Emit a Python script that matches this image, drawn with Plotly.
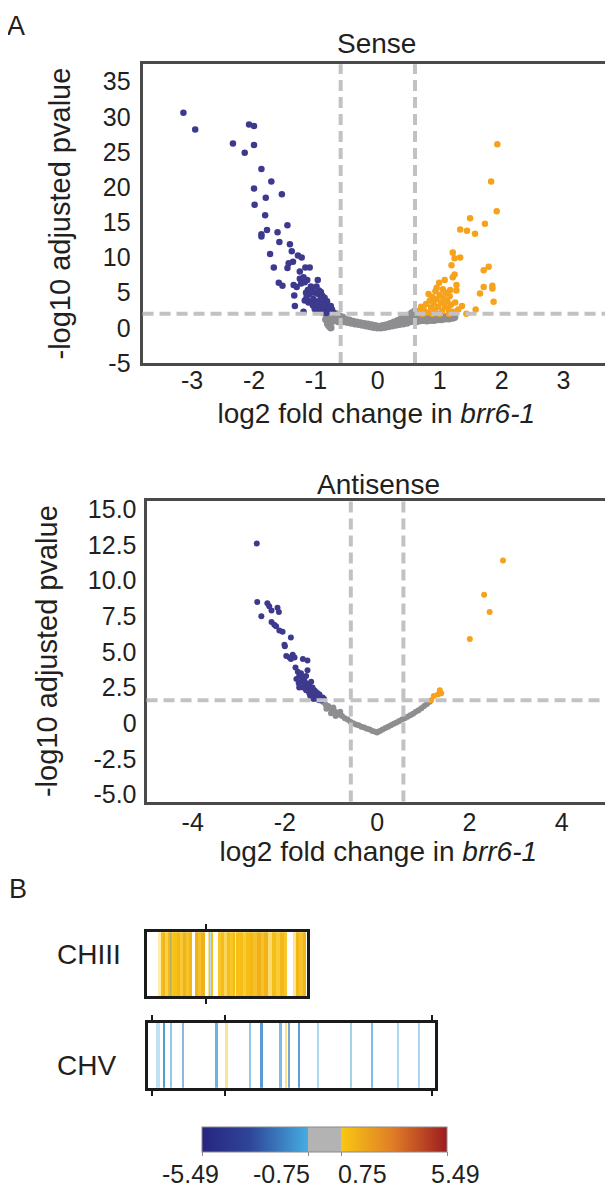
import plotly.graph_objects as go

# ---------------- DATA ----------------
# Sense volcano (log2 fold change, -log10 adjusted pvalue)
sense_down_x = [-3.14, -2.95, -2.08, -2.00, -2.34, -2.00, -2.15, -1.88, -1.72, -2.00, -1.81, -1.55, -1.99,
                -1.82, -1.46, -1.79, -1.88, -1.88, -1.62, -1.59, -1.42, -1.39, -1.29, -1.23, -1.74, -1.37,
                -1.44, -1.46, -1.68, -1.17, -1.10, -1.26, -1.60, -1.54, -1.36, -1.31, -1.26, -1.20, -1.22,
                -1.14, -1.18, -1.24, -0.97, -1.35, -1.34, -1.20, -1.18, -1.13, -1.10, -1.06, -1.02, -0.99,
                -0.96, -0.93, -0.90, -0.88, -0.86, -0.84, -0.82, -1.12, -1.08, -1.04, -1.00, -0.97, -0.94,
                -0.91, -0.88, -0.85, -0.80, -0.78, -1.15, -1.05, -1.02, -0.98, -1.08, -0.95, -0.92, -1.16,
                -0.76, -0.74, -0.72, -0.83, -0.90]
sense_down_y = [30.6, 28.2, 28.9, 28.7, 26.2, 26.0, 24.9, 22.6, 20.8, 19.8, 18.5, 19.0, 17.5,
                16.0, 14.6, 13.9, 13.3, 13.0, 13.6, 12.2, 11.9, 10.9, 10.3, 10.0, 10.5, 9.4,
                9.2, 8.5, 8.6, 8.6, 8.6, 8.0, 6.4, 6.0, 6.1, 5.8, 7.0, 7.2, 6.6,
                6.8, 6.5, 6.3, 6.8, 4.6, 3.1, 2.3, 3.9, 5.4, 4.8, 5.6, 5.0, 5.9,
                4.8, 4.0, 4.6, 3.6, 4.3, 3.2, 3.8, 3.6, 3.8, 4.1, 3.7, 3.3, 2.9,
                2.6, 2.8, 2.5, 2.9, 2.4, 4.4, 3.2, 2.7, 2.4, 5.9, 5.3, 5.1, 5.0,
                3.1, 2.6, 2.2, 2.1, 2.2]
sense_up_x = [1.93, 1.83, 1.92, 1.49, 1.73, 1.33, 1.44, 1.57, 1.21, 1.33, 1.24, 1.79, 1.71, 1.19, 1.24,
              1.21, 1.08, 0.99, 0.95, 1.27, 1.17, 1.27, 1.85, 1.71, 1.85, 1.65, 1.87, 1.58, 1.43, 1.36,
              1.30, 0.66, 0.70, 0.74, 0.78, 0.80, 0.84, 0.86, 0.88, 0.90, 0.92, 0.95, 0.97, 1.00, 1.02,
              1.04, 1.06, 1.08, 1.10, 1.12, 1.14, 1.16, 1.18, 1.22, 1.25, 0.82, 0.93, 1.05, 0.72, 1.15,
              1.00, 0.88]
sense_up_y = [26.1, 20.8, 16.6, 15.6, 14.8, 14.0, 13.8, 13.4, 10.7, 10.0, 9.9, 8.7, 8.2, 8.9, 7.6,
              7.2, 6.8, 6.4, 5.7, 6.1, 5.4, 5.3, 6.0, 5.8, 5.6, 4.9, 3.7, 2.6, 2.0, 3.1,
              2.6, 2.4, 3.0, 2.6, 3.4, 2.2, 3.9, 2.9, 4.4, 3.5, 2.5, 4.1, 3.0, 4.7, 3.6,
              2.4, 4.2, 3.1, 5.0, 3.8, 2.7, 4.5, 3.3, 2.3, 3.6, 4.8, 5.2, 5.5, 2.0, 2.0,
              2.0, 2.0]
sense_ns_x = [-0.86, -0.83, -0.80, -0.84, -0.81, -0.78, -0.76, -0.74, -0.72, -0.70, -0.68, -0.66, -0.64,
              -0.62, -0.60, -0.57, -0.55, -0.52, -0.49, -0.46, -0.43, -0.40, -0.37, -0.34, -0.31, -0.28,
              -0.25, -0.22, -0.19, -0.16, -0.13, -0.10, -0.07, -0.04, -0.01, 0.02, 0.05, 0.08, 0.11,
              0.14, 0.17, 0.20, 0.23, 0.26, 0.29, 0.32, 0.35, 0.38, 0.41, 0.44, 0.47, 0.50, 0.53, 0.55,
              0.58, 0.60, 0.62, 0.64, 0.67, 0.70, 0.73, 0.76, 0.79, 0.82, 0.85, 0.88, 0.91, 0.94, 0.97,
              1.00, 1.03, 1.06, 1.09, 1.12, 1.15, 1.18, 1.21, 1.24, -0.79, -0.76]
sense_ns_y = [2.4, 1.9, 2.5, 1.2, 0.6, 1.5, 2.1, 0.9, 1.7, 1.2, 2.0, 1.4, 0.9,
              1.7, 1.2, 1.5, 0.9, 1.2, 0.8, 1.1, 0.7, 0.9, 0.6, 0.8, 0.5, 0.7,
              0.4, 0.6, 0.3, 0.5, 0.2, 0.4, 0.1, 0.3, 0.0, 0.2, 0.0, 0.3, 0.1,
              0.4, 0.2, 0.6, 0.3, 0.8, 0.4, 1.0, 0.5, 1.3, 0.6, 1.5, 0.7, 1.8, 0.9, 2.1,
              1.2, 2.4, 0.9, 1.8, 1.0, 1.6, 1.1, 1.7, 1.0, 1.5, 1.1, 1.6, 1.1, 1.5, 1.2,
              1.6, 1.2, 1.5, 1.3, 1.6, 1.3, 1.5, 1.4, 1.5, 0.3, 0.0]

# Antisense volcano
anti_down_x = [-2.61, -2.60, -2.51, -2.38, -2.34, -2.29, -2.16, -2.13, -2.29, -2.23, -2.19, -2.12, -2.05,
               -1.87, -2.01, -2.00, -1.97, -1.90, -1.83, -1.87, -1.79, -1.61, -1.51, -1.77, -1.72, -1.69,
               -1.65, -1.61, -1.54, -1.51, -1.58, -1.54, -1.47, -1.43, -1.40, -1.36, -1.33, -1.29, -1.25,
               -1.22, -1.18, -1.15, -1.65, -1.61, -1.54, -1.47, -1.40, -1.33, -1.43, -1.69, -1.75, -1.70,
               -1.57, -1.50, -1.45, -1.38, -1.30, -1.26, -1.20]
anti_down_y = [12.6, 8.5, 7.5, 8.4, 8.2, 7.9, 8.1, 7.8, 7.1, 6.9, 6.8, 6.5, 6.4,
               6.0, 5.5, 5.4, 4.7, 4.6, 4.8, 4.5, 4.6, 4.5, 4.4, 3.9, 3.6, 3.3,
               3.5, 3.2, 3.3, 3.7, 3.0, 2.8, 2.6, 2.9, 2.5, 2.3, 2.2, 2.1, 2.0,
               1.8, 1.8, 1.7, 2.9, 2.5, 2.3, 2.1, 2.0, 1.8, 2.3, 2.5, 3.1, 2.8,
               2.6, 2.4, 1.9, 1.7, 1.7, 1.6, 1.6]
anti_up_x = [2.73, 2.32, 2.44, 2.01, 1.36, 1.39, 1.23, 1.17, 1.32]
anti_up_y = [11.4, 9.0, 7.8, 5.9, 2.3, 2.1, 1.9, 1.6, 2.0]
anti_ns_x = [-1.18, -1.12, -1.06, -1.00, -0.94, -0.88, -0.82, -0.76, -0.70, -0.64, -0.58, -0.52, -0.46,
             -0.40, -0.34, -0.28, -0.22, -0.16, -0.10, -0.04, 0.00, 0.06, 0.12, 0.18, 0.24, 0.30, 0.36,
             0.42, 0.48, 0.54, 0.60, 0.66, 0.72, 0.78, 0.84, 0.90, 0.96, 1.02, 1.08, 1.14,
             -1.00, -0.90, -0.95, -1.10, -0.80]
anti_ns_y = [1.5, 1.3, 1.2, 1.0, 0.9, 0.75, 0.6, 0.5, 0.35, 0.25, 0.1, 0.0, -0.1,
             -0.15, -0.25, -0.3, -0.4, -0.45, -0.55, -0.6, -0.65, -0.55, -0.45, -0.35, -0.25, -0.15, -0.05,
             0.05, 0.15, 0.25, 0.35, 0.45, 0.55, 0.65, 0.8, 0.9, 1.05, 1.2, 1.35, 1.5,
             0.7, 0.5, 1.1, 1.0, 0.8]

# thresholds
sense_fc_cut = 0.6
sense_p_cut = 2.0
anti_fc_cut = 0.57
anti_p_cut = 1.6

# Panel B: chromosome stripes (kb start, kb end, log2 FC, opacity)
chIII_len = 1610
chIII_start = [113, 137, 160, 185, 210, 237, 237, 263, 297, 330, 360, 395, 420, 480, 510, 545,
               615, 630, 645, 715, 745, 775, 805, 835, 865, 880, 897, 930, 960, 990, 1030, 1065,
               1100, 1140, 1175, 1213, 1250, 1290, 1330, 1370, 1463, 1497, 1530, 1565]
chIII_end = [137, 160, 185, 210, 237, 263, 255, 297, 330, 360, 395, 420, 447, 510, 545, 580,
             635, 645, 665, 745, 775, 805, 835, 865, 880, 897, 930, 960, 990, 1030, 1065, 1100,
             1140, 1175, 1213, 1250, 1290, 1330, 1370, 1400, 1497, 1530, 1565, 1600]
chIII_fc = [0.8, 1.0, 1.3, 0.95, 1.2, 0.95, -0.9, 1.0, 1.25, 1.05, 1.4, 1.1, 1.3, 1.4, 1.2, 1.5,
            0.8, -0.9, 1.0, 0.95, 1.1, 0.9, 1.05, 1.0, 1.2, 0.85, 1.0, 1.1, 0.95, 1.05, 1.3, 1.2,
            1.5, 1.1, 1.4, 0.9, 1.05, 0.95, 1.2, 1.0, 0.85, 1.25, 1.1, 1.3]
chIII_alpha = [0.35, 1.0, 1.0, 0.75, 1.0, 0.9, 0.35, 1.0, 1.0, 0.85, 1.0, 0.9, 1.0, 1.0, 0.9, 1.0,
               0.5, 0.4, 1.0, 0.9, 1.0, 0.7, 1.0, 0.9, 1.0, 0.4, 1.0, 1.0, 0.85, 1.0, 1.0, 0.9,
               1.0, 0.9, 1.0, 0.6, 1.0, 0.85, 1.0, 0.9, 0.45, 1.0, 0.9, 1.0]
chIII_ticks = [600]

chV_len = 2880
chV_start = [83, 152, 222, 342, 682, 782, 1022, 1130, 1310, 1379, 1409, 1512, 1700, 2030, 2242, 2500, 2710]
chV_end = [118, 168, 238, 358, 698, 798, 1038, 1150, 1340, 1391, 1421, 1528, 1720, 2050, 2258, 2520, 2730]
chV_fc = [-0.9, -1.4, -0.9, -2.0, -1.0, 0.9, -0.9, -1.6, -1.1, 0.9, -1.8, -1.5, -0.9, -0.9, -1.0, -0.9, -0.9]
chV_alpha = [0.35, 0.9, 0.6, 0.55, 0.8, 0.45, 0.6, 0.85, 0.7, 0.5, 0.7, 0.85, 0.45, 0.5, 0.7, 0.45, 0.45]
chV_ticks = [40, 780, 2850]

cb_min, cb_low, cb_high, cb_max = -5.49, -0.75, 0.75, 5.49
chrom_names = ["CHIII", "CHV"]

# ---------------- STYLE / LAYOUT ----------------
FONT = "Liberation Sans, Arial, Helvetica, sans-serif"
TXT = "#231f20"
PAGE_OFF = 8                      # default page margin around the figure
W, H = 613 - PAGE_OFF, 1200 - PAGE_OFF
PW = W - 1


def fx(px):
    return (px - PAGE_OFF) / PW


def fy(py):
    return 1 - (py - PAGE_OFF) / H


PURPLE = "#3d3a8e"
ORANGE = "#f7a21c"
GRAY = "#8e8e91"
DASH = "#c2c2c4"
BOX = "#4a4a4a"

fig = go.Figure()


def pts(xs, ys, color, size, xa, ya):
    fig.add_trace(go.Scatter(x=xs, y=ys, mode="markers",
                             marker=dict(color=color, size=size, line_width=0),
                             xaxis=xa, yaxis=ya, showlegend=False, hoverinfo="skip"))


pts(sense_ns_x, sense_ns_y, GRAY, 7.5, "x", "y")
pts(sense_down_x, sense_down_y, PURPLE, 6.5, "x", "y")
pts(sense_up_x, sense_up_y, ORANGE, 6.5, "x", "y")
pts(anti_ns_x, anti_ns_y, GRAY, 6, "x2", "y2")
pts(anti_down_x, anti_down_y, PURPLE, 6, "x2", "y2")
pts(anti_up_x, anti_up_y, ORANGE, 6, "x2", "y2")

# chromosome stripe bars sharing the colour axis
for starts, ends, fcs, alph, xa, ya in [
        (chIII_start, chIII_end, chIII_fc, chIII_alpha, "x3", "y3"),
        (chV_start, chV_end, chV_fc, chV_alpha, "x4", "y4")]:
    fig.add_trace(go.Bar(
        x=[(s + e) / 2 for s, e in zip(starts, ends)],
        y=[1] * len(starts),
        width=[e - s for s, e in zip(starts, ends)],
        marker=dict(color=fcs, coloraxis="coloraxis", opacity=alph, line_width=0),
        xaxis=xa, yaxis=ya, showlegend=False, hoverinfo="skip"))

p_low = (cb_low - cb_min) / (cb_max - cb_min)
p_high = (cb_high - cb_min) / (cb_max - cb_min)
colorscale = [[0, "#27257f"], [p_low * 0.45, "#2e4597"], [p_low, "#46ace2"],
              [p_low, "#b3b3b3"], [p_high, "#b3b3b3"],
              [p_high, "#f9c812"], [p_high + (1 - p_high) * 0.5, "#df7b27"], [1, "#9c1b20"]]

CB_X0, CB_X1, CB_Y0, CB_TH = 203, 449, 1140, 25

tick_font = dict(family=FONT, size=25, color=TXT)
title_font = dict(family=FONT, size=28, color=TXT)
ytitle_font = dict(family=FONT, size=29, color=TXT)


def vol_x(dom, rng, tv, label_shift, standoff, anchor):
    return dict(domain=dom, range=rng, tickvals=tv, ticktext=[str(v) for v in tv], anchor=anchor,
                showline=True, mirror=True, linecolor=BOX, linewidth=3,
                ticks="", ticklabelstandoff=label_shift,
                showgrid=False, zeroline=False, tickfont=tick_font,
                title=dict(text="log2 fold change in <i>brr6-1</i>", font=title_font, standoff=standoff))


def vol_y(dom, rng, tv, tt, anchor, ticklen, standoff):
    return dict(domain=dom, range=rng, tickvals=tv, ticktext=tt, anchor=anchor,
                showline=True, mirror=True, linecolor=BOX, linewidth=3,
                ticks="outside", ticklen=ticklen, tickcolor="rgba(0,0,0,0)",
                showgrid=False, zeroline=False, tickfont=tick_font,
                title=dict(text="-log10 adjusted pvalue", font=ytitle_font, standoff=standoff))


sense_yt = [-5, 0, 5, 10, 15, 20, 25, 30, 35]
anti_yt = [-5.0, -2.5, 0, 2.5, 5.0, 7.5, 10.0, 12.5, 15.0]
anti_ytt = ["-5.0", "-2.5", "0", "2.5", "5.0", "7.5", "10.0", "12.5", "15.0"]


def chrom_axes(dom_x, dom_y, length, ticks, anchor_y, anchor_x):
    xa = dict(domain=dom_x, range=[0, length], anchor=anchor_y, showline=True, mirror="ticks",
              linecolor="#1a1a1a", linewidth=3, ticks="outside", ticklen=5, tickwidth=2,
              tickcolor="#1a1a1a", tickvals=ticks, showticklabels=False, showgrid=False, zeroline=False)
    ya = dict(domain=dom_y, range=[0, 1], anchor=anchor_x, showline=True, mirror=True,
              linecolor="#1a1a1a", linewidth=3, ticks="", showticklabels=False, showgrid=False,
              zeroline=False)
    return xa, ya


x3, y3 = chrom_axes([fx(147), fx(308)], [fy(1007), fy(942)], chIII_len, chIII_ticks, "y3", "x3")
x4, y4 = chrom_axes([fx(148), fx(436)], [fy(1100), fy(1034)], chV_len, chV_ticks, "y4", "x4")

fig.update_layout(
    width=W, height=H, margin=dict(l=0, r=1, t=0, b=0),
    paper_bgcolor="white", plot_bgcolor="white", barmode="overlay", bargap=0,
    font=dict(family=FONT, color=TXT),
    xaxis=vol_x([fx(143), 1], [-3.8, 3.75], [-3, -2, -1, 0, 1, 2, 3], -7, 11, "y"),
    yaxis=vol_y([fy(363), fy(59)], [-5, 37.5], sense_yt, [str(v) for v in sense_yt], "x", 4, 24),
    xaxis2=vol_x([fx(147), 1], [-5.0, 5.05], [-4, -2, 0, 2, 4], -4, 3, "y2"),
    yaxis2=vol_y([fy(809), fy(503)], [-5.5, 15.6], anti_yt, anti_ytt, "x2", 2, 22),
    xaxis3=x3, yaxis3=y3, xaxis4=x4, yaxis4=y4,
    coloraxis=dict(cmin=cb_min, cmax=cb_max, colorscale=colorscale,
                   colorbar=dict(orientation="h", thickness=CB_TH, thicknessmode="pixels",
                                 len=(CB_X1 - CB_X0) / PW, lenmode="fraction",
                                 x=fx((CB_X0 + CB_X1) / 2), xanchor="center",
                                 y=fy(CB_Y0), yanchor="top", xpad=0, ypad=0,
                                 outlinewidth=1, outlinecolor="#8a8a8a",
                                 tickvals=[cb_min, cb_low, cb_high, cb_max], ticks="outside",
                                 ticklen=4, tickcolor="#8a8a8a", showticklabels=False)),
)

# threshold dashed lines
dash_line = dict(color=DASH, width=4, dash="11px,6px")
for xa, ya, fc, pc in [("x", "y", sense_fc_cut, sense_p_cut), ("x2", "y2", anti_fc_cut, anti_p_cut)]:
    for v in (-fc, fc):
        fig.add_shape(type="line", xref=xa, yref=ya + " domain", x0=v, x1=v, y0=0, y1=1,
                      line=dash_line, layer="above")
    fig.add_shape(type="line", xref=xa + " domain", yref=ya, x0=0, x1=1, y0=pc, y1=pc,
                  line=dash_line, layer="above")


def label(text, px, py, size, xanchor="center", xref="paper", x=None, xshift=0):
    fig.add_annotation(text=text, x=fx(px) if x is None else x, xref=xref, y=fy(py), yref="paper",
                       xanchor=xanchor, yanchor="middle", showarrow=False, xshift=xshift,
                       font=dict(family=FONT, size=size, color=TXT))


label("A", 16, 20, 27)
label("B", 18, 898, 27)
label("Sense", 0, 38, 28, xref="x domain", x=0.5)
label("Antisense", 0, 487, 28, xref="x2 domain", x=0.5)
label(chrom_names[0], 55, 965, 28, xanchor="left")
label(chrom_names[1], 55, 1077, 28, xanchor="left")


def cb_px(v):
    return CB_X0 + (v - cb_min) / (cb_max - cb_min) * (CB_X1 - CB_X0)


for v, anchor, shift in [(cb_min, "center", -12), (cb_low, "right", 4),
                         (cb_high, "left", -6), (cb_max, "center", 8)]:
    label(f"{v:.2f}", cb_px(v), 1188, 25, xanchor=anchor, xshift=shift)

fig.write_html("out.html")
